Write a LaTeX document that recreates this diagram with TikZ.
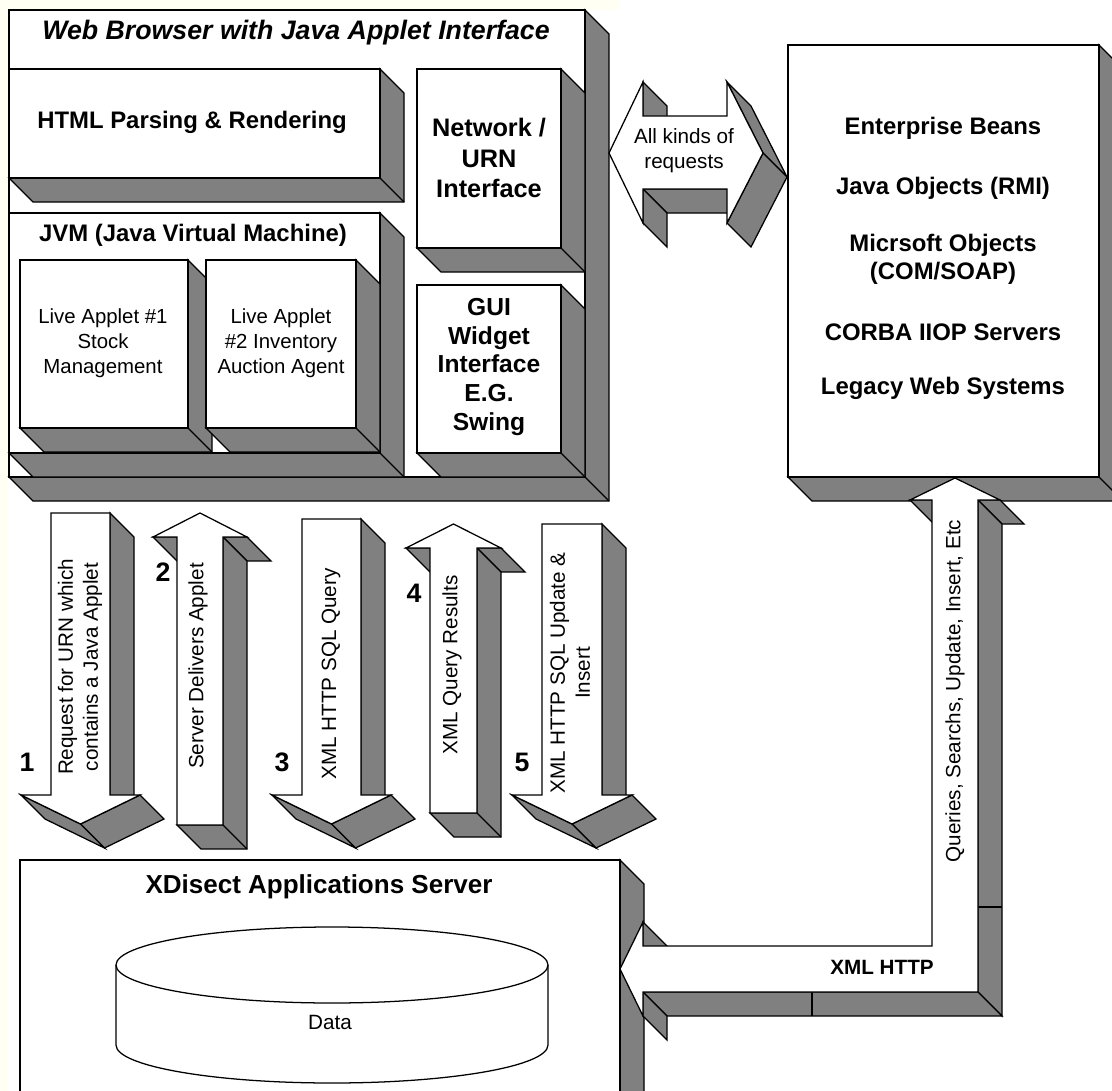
\documentclass[tikz,border=0pt]{standalone}
\usepackage{fontspec}
\setmainfont{Liberation Sans}
\definecolor{shadegray}{HTML}{808080}
\definecolor{cream}{HTML}{FFFFF3}
\tikzset{
  face/.style={draw=black, fill=white},
  side/.style={draw=black, fill=shadegray},
  titletxt/.style={font=\bfseries\itshape\fontsize{19}{22}\selectfont, inner sep=0pt},
  boldtxt/.style={font=\bfseries\fontsize{17}{20.5}\selectfont, align=center, inner sep=0pt},
  plaintxt/.style={font=\fontsize{14.7}{17.8}\selectfont, align=center, inner sep=0pt},
  numtxt/.style={font=\bfseries\fontsize{19}{22}\selectfont, inner sep=0pt},
}
\newcommand{\dep}{24}
% 3D block, front face (#1,#2)--(#3,#4), y runs downwards
\newcommand{\block}[4]{%
  \filldraw[side] (#3,#2) -- (#3+\dep,#2+\dep) -- (#3+\dep,#4+\dep) -- (#1+\dep,#4+\dep) -- (#1,#4) -- (#3,#4) -- cycle;
  \draw (#3,#4) -- (#3+\dep,#4+\dep);
  \filldraw[face] (#1,#2) rectangle (#3,#4);}
% 3D down arrow: shaft #1..#2, top #3, wings at #4, tip at #5, wing overhang #6
\newcommand{\downblock}[6]{%
  \filldraw[side] (#2,#3) -- (#2+\dep,#3+\dep) -- (#2+\dep,#4+\dep) -- (#2,#4) -- cycle;
  \filldraw[side] (#2+#6,#4) -- (#2+#6+\dep,#4+\dep) -- ({(#1+#2)/2+\dep},#5+\dep) -- ({(#1+#2)/2},#5) -- cycle;
  \filldraw[side] ({(#1+#2)/2},#5) -- ({(#1+#2)/2+\dep},#5+\dep) -- (#1-#6+\dep,#4+\dep) -- (#1-#6,#4) -- cycle;
  \filldraw[face] (#1,#3) -- (#2,#3) -- (#2,#4) -- (#2+#6,#4) -- ({(#1+#2)/2},#5) -- (#1-#6,#4) -- (#1,#4) -- cycle;}
% 3D up arrow: shaft #1..#2, bottom #3, wings at #4, tip at #5, wing overhang #6
\newcommand{\upblock}[6]{%
  \filldraw[side] (#1-#6,#4) -- (#1,#4) -- (#1+\dep,#4+\dep) -- (#1-#6+\dep,#4+\dep) -- cycle;
  \filldraw[side] (#2,#4) -- (#2+#6,#4) -- (#2+#6+\dep,#4+\dep) -- (#2+\dep,#4+\dep) -- cycle;
  \filldraw[side] (#2,#4) -- (#2+\dep,#4+\dep) -- (#2+\dep,#3+\dep) -- (#1+\dep,#3+\dep) -- (#1,#3) -- (#2,#3) -- cycle;
  \draw (#2,#3) -- (#2+\dep,#3+\dep);
  \filldraw[face] (#1,#3) -- (#1,#4) -- (#1-#6,#4) -- ({(#1+#2)/2},#5) -- (#2+#6,#4) -- (#2,#4) -- (#2,#3) -- cycle;}

\begin{document}
\begin{tikzpicture}[x=0.025cm, y=-0.025cm, line width=0.9pt]
\useasboundingbox (0,0) rectangle (1112,1091);
\clip (0,0) rectangle (1112,1091);
\fill[white] (0,0) rectangle (1112,1091);
\fill[cream] (0,0) rectangle (8,1091);
\fill[cream] (0,0) rectangle (620,10);
% browser and its parts:
\block{9}{10}{585}{477}
\block{9}{69}{380}{178}
\block{417}{69}{561}{248}
\block{9}{213}{380}{453}
\block{20}{260}{188}{428}
\block{206}{260}{356}{428}
\block{417}{285}{561}{453}
\node[titletxt] (browser) at (296,33) {Web Browser with Java Applet Interface};
\node[boldtxt] (html) at (192,122) {HTML Parsing \& Rendering};
\node[boldtxt, font=\bfseries\fontsize{18}{22}\selectfont] (network) at (489,158) {Network /\\URN\\Interface};
\node[boldtxt] (jvm) at (193,235) {JVM (Java Virtual Machine)};
\node[plaintxt, font=\fontsize{14.5}{17.8}\selectfont] (applet1) at (103,343) {Live Applet \#1\\Stock\\Management};
\node[plaintxt, font=\fontsize{14.5}{17.8}\selectfont] (applet2) at (281,343) {Live Applet\\\#2 Inventory\\Auction Agent};
\node[boldtxt, font=\bfseries\fontsize{17.5}{20.6}\selectfont] (gui) at (489,367) {GUI\\Widget\\Interface\\E.G.\\Swing};
% double arrow to the servers:
\filldraw[side] (643,82) -- (667,106) -- (667,140) -- (643,116) -- cycle;
\filldraw[side] (643,189) -- (727,189) -- (751,213) -- (667,213) -- cycle;
\filldraw[side] (643,189) -- (667,213) -- (667,247) -- (643,223) -- cycle;
\filldraw[side] (727,82) -- (751,106) -- (787,177) -- (763,153) -- cycle;
\filldraw[side] (763,153) -- (787,177) -- (751,247) -- (727,223) -- cycle;
\filldraw[face] (609,153) -- (643,82) -- (643,116) -- (727,116) -- (727,82) -- (763,153) -- (727,223) -- (727,189) -- (643,189) -- (643,223) -- cycle;
\node[plaintxt] (requests) at (684,151) {All kinds of\\requests};
% object servers:
\block{788}{45}{1099}{477}
\node[boldtxt] (beans) at (943,128) {Enterprise Beans};
\node[boldtxt] (rmi) at (943,188) {Java Objects (RMI)};
\node[boldtxt, font=\bfseries\fontsize{17}{20}\selectfont] (com) at (943,259) {Micrsoft Objects\\(COM/SOAP)};
\node[boldtxt] (corba) at (943,332) {CORBA IIOP Servers};
\node[boldtxt] (legacy) at (943,388) {Legacy Web Systems};
% numbered requests:
\downblock{51}{110}{513}{795}{824}{30}
\upblock{177}{223}{825}{537}{513}{24}
\downblock{302}{361}{519}{795}{824}{30}
\upblock{430}{477}{813}{548}{524}{24}
\downblock{542}{602}{524}{795}{824}{30}
\node[plaintxt, rotate=90] (req1) at (80,667) {Request for URN which\\contains a Java Applet};
\node[plaintxt, rotate=90] (req2) at (198,666) {Server Delivers Applet};
\node[plaintxt, rotate=90] (req3) at (331,674) {XML HTTP SQL Query};
\node[plaintxt, rotate=90] (req4) at (452,665) {XML Query Results};
\node[plaintxt, rotate=90] (req5) at (570,673) {XML HTTP SQL Update \&\\Insert};
\node[numtxt] (n1) at (27,762) {1};
\node[numtxt] (n2) at (163,572) {2};
\node[numtxt] (n3) at (282,762) {3};
\node[numtxt] (n4) at (414,593) {4};
\node[numtxt] (n5) at (522,762) {5};
% application server:
\block{20}{860}{620}{1120}
\node[boldtxt, font=\bfseries\fontsize{18.5}{22}\selectfont] (server) at (319,887) {XDisect Applications Server};
\draw (116,965) -- (116,1045) arc[start angle=180, end angle=0, x radius=216, y radius=38] -- (548,965);
\draw (332,965) ellipse [x radius=216, y radius=38];
\node[plaintxt] (data) at (330,1022) {Data};
% bent arrow, servers to application server:
\filldraw[side] (910,500) -- (932,500) -- (956,524) -- (934,524) -- cycle;
\filldraw[side] (978,500) -- (1000,500) -- (1024,524) -- (1002,524) -- cycle;
\filldraw[side] (978,500) -- (1002,524) -- (1002,1016) -- (978,992) -- cycle;
\filldraw[side] (978,992) -- (1002,1016) -- (667,1016) -- (643,992) -- cycle;
\filldraw[side] (643,992) -- (667,1016) -- (667,1040) -- (643,1016) -- cycle;
\filldraw[side] (643,922) -- (667,946) -- (667,970) -- (643,946) -- cycle;
\draw (978,907) -- (1002,907);
\draw (812,992) -- (812,1016);
\filldraw[face] (955,478) -- (1000,500) -- (978,500) -- (978,992) -- (643,992) -- (643,1016) -- (620,969) -- (643,922) -- (643,946) -- (932,946) -- (932,500) -- (910,500) -- cycle;
\node[plaintxt, rotate=90] (queries) at (955,691) {Queries, Searchs, Update, Insert, Etc};
\node[boldtxt, font=\bfseries\fontsize{14.7}{17}\selectfont] (xmlhttp) at (882,967) {XML HTTP};
\end{tikzpicture}
\end{document}
